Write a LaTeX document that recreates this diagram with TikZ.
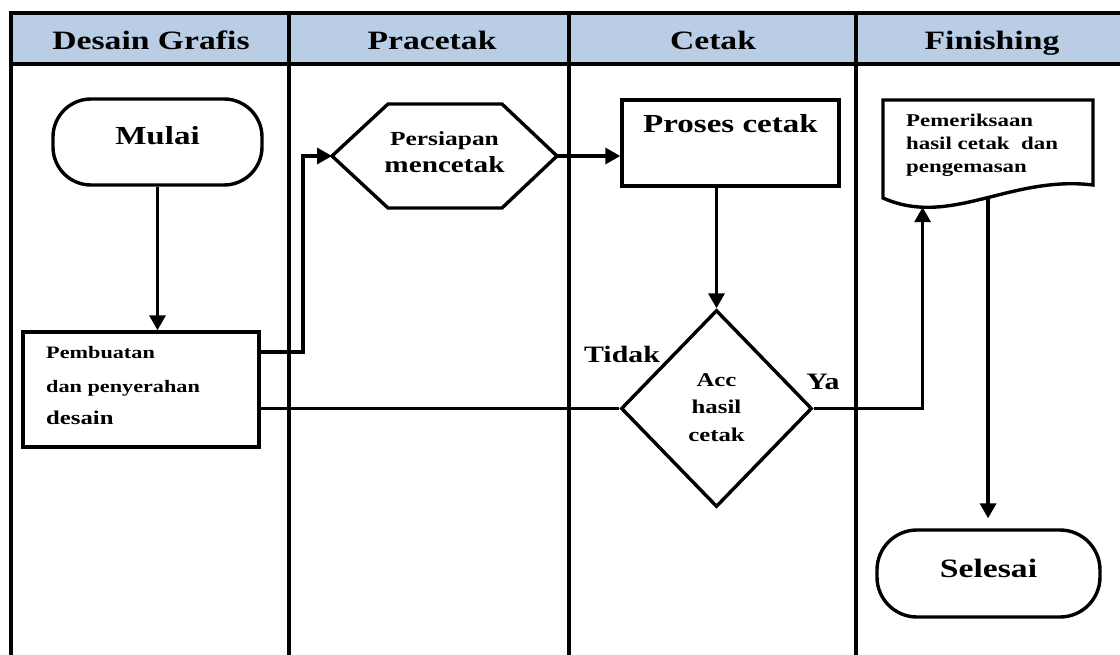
\documentclass[tikz,border=0pt]{standalone}
\usepackage{fontspec}
\setmainfont{Liberation Serif}[FakeStretch=1.27]
\usetikzlibrary{arrows.meta,shapes.geometric,calc}
\definecolor{hdrblue}{RGB}{185,205,229}
\newcommand\fsz[2]{\fontsize{#1}{#2}\selectfont\bfseries}
\begin{document}
\begin{tikzpicture}[x=1pt,y=-1pt,
  ln/.style={line width=3.4pt, line join=miter},
  arr/.style={ln, -{Triangle[width=16pt,length=15pt]}},
  shp/.style={draw, line width=3.4pt, inner sep=0pt},
  txt/.style={inner sep=0pt, anchor=base},
  ltxt/.style={inner sep=0pt, anchor=base west}]
\useasboundingbox (0,0) rectangle (1120,655);
% lanes
\fill[hdrblue] (11,13) rectangle (1120,64);
\draw[ln] (1120,13) -- (11,13) -- (11,655);
\draw[ln] (11,64) -- (1120,64);
\draw[ln] (289,13) -- (289,655);
\draw[ln] (569,13) -- (569,655);
\draw[ln] (856,13) -- (856,655);
\node[txt] (h1) at (151,50) {\fsz{26.5}{30}Desain Grafis};
\node[txt] (h2) at (432,50) {\fsz{26.5}{30}Pracetak};
\node[txt] (h3) at (713,50) {\fsz{26.5}{30}Cetak};
\node[txt] (h4) at (992,50) {\fsz{26.5}{30}Finishing};
% Mulai
\node[shp, rounded corners=38pt, minimum width=209pt, minimum height=86pt] (mulai) at (157.5,142) {};
\node[txt] (mulaitxt) at (157.5,145) {\fsz{26}{30}Mulai};
% Pembuatan
\node[shp, minimum width=236pt, minimum height=115pt] (pemb) at (141,389.5) {};
\node[ltxt] (pembA) at (46,359) {\fsz{17.5}{20}Pembuatan};
\node[ltxt] (pembB) at (46,392) {\fsz{17.5}{20}dan penyerahan};
\node[ltxt] (pembC) at (46,424) {\fsz{19.5}{22}desain};
% Hexagon
\coordinate (hexc) at (444.5,156);
\draw[ln] ($(hexc)+(-112.5,0)$) coordinate (hexW) -- ($(hexc)+(-56.5,-52)$) -- ($(hexc)+(57.5,-52)$)
  -- ($(hexc)+(112.5,0)$) coordinate (hexE) -- ($(hexc)+(57.5,52)$) -- ($(hexc)+(-56.5,52)$) -- cycle;
\node[txt] (hexA) at (444.5,146) {\fsz{20}{24}Persiapan};
\node[txt] (hexB) at (444.5,173) {\fsz{23}{27}mencetak};
% Proses cetak
\node[shp, minimum width=217pt, minimum height=86pt] (proses) at (730.5,143) {};
\node[txt] (prosestxt) at (730.5,133) {\fsz{26}{30}Proses cetak};
% Diamond
\node[shp, diamond, minimum width=191pt, minimum height=197pt] (dia) at (716.5,408.5) {};
\node[txt] (diaA) at (716.5,386) {\fsz{19.5}{22}Acc};
\node[txt] (diaB) at (716.5,413) {\fsz{19.5}{22}hasil};
\node[txt] (diaC) at (716.5,441) {\fsz{19.5}{22}cetak};
\node[txt] (tidak) at (622,362) {\fsz{23.5}{27}Tidak};
\node[txt] (ya) at (823,389) {\fsz{23.5}{27}Ya};
% Document
\draw[ln] (883,100) -- (1093,100) -- (1093,185)
  .. controls (1010,175) and (950,228) .. coordinate[pos=0.47] (docout) coordinate[pos=0.8] (docin) (883,198) -- cycle;
\node[ltxt] (docA) at (906,127) {\fsz{18}{22}Pemeriksaan};
\node[ltxt] (docB) at (906,150) {\fsz{18}{22}hasil cetak\ \ dan};
\node[ltxt] (docC) at (906,173) {\fsz{18}{22}pengemasan};
% Selesai
\node[shp, rounded corners=40pt, minimum width=223pt, minimum height=87pt] (sel) at (988.5,573.5) {};
\node[txt] (seltxt) at (988.5,577) {\fsz{26.5}{30}Selesai};
% connectors
\draw[arr] (mulai.south) -- (mulai.south |- pemb.north);
\draw[arr] ([yshift=37.5pt]pemb.east) -| ($(hexW)+(-29,0)$) -- (hexW);
\draw[arr] (hexE) -- (proses.west |- hexE);
\draw[arr] (dia.north |- proses.south) -- (dia.north);
\draw[ln] ([yshift=-19pt]pemb.east) -- (dia.west);
\draw[arr] (dia.east) -| (docin);
\draw[arr, shorten >=10pt] (docout) -- (docout |- sel.north);
\end{tikzpicture}
\end{document}
